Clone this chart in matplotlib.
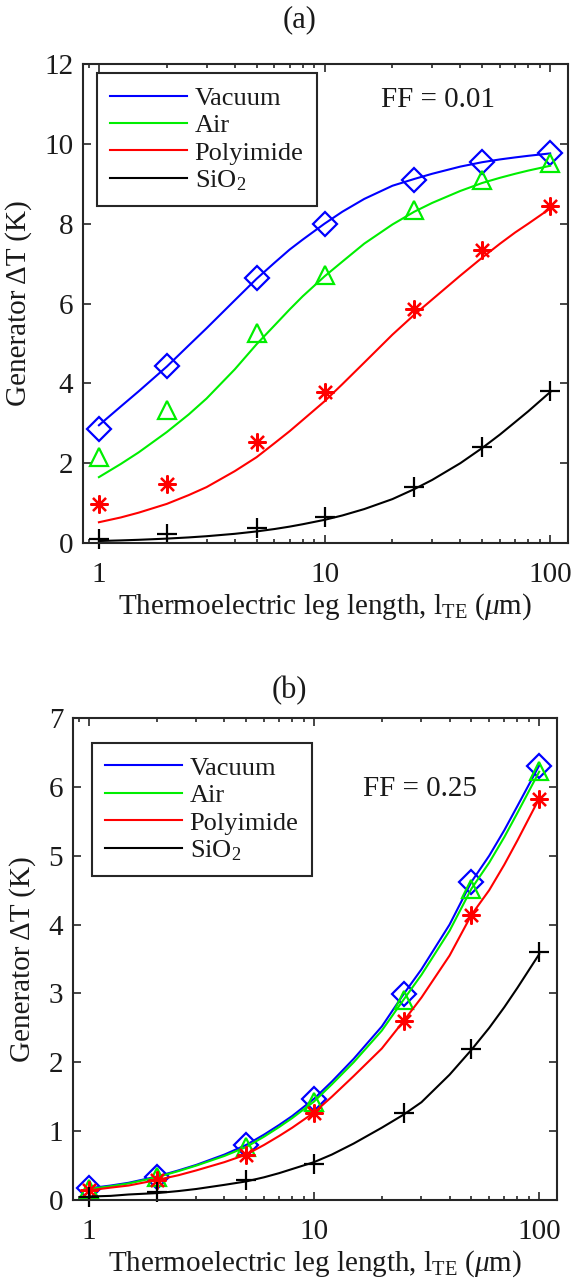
import matplotlib
matplotlib.use("Agg")
import matplotlib.pyplot as plt
from matplotlib.ticker import LogLocator, NullFormatter, FixedLocator

plt.rcParams['font.family'] = ['Liberation Serif', 'DejaVu Serif']
plt.rcParams['mathtext.fontset'] = 'custom'
plt.rcParams['mathtext.rm'] = 'Liberation Serif'
plt.rcParams['mathtext.it'] = 'Liberation Serif:italic'

# leg lengths of the simulated points (um)
leg_len = [1, 2, 5, 10, 25, 50, 100]
# leg lengths where the model curves are sampled (um)
curve_len = [1, 1.25, 1.5, 2, 2.5, 3, 4, 5, 6, 7, 8, 10, 12, 15, 20, 25, 30, 40,
             50, 60, 70, 80, 100]

materials = ['Vacuum', 'Air', 'Polyimide', 'SiO$\\mathregular{_2}$']

# FF = 0.01 : simulated points
a_vacuum = [2.86, 4.43, 6.64, 7.98, 9.10, 9.54, 9.76]
a_air = [2.16, 3.32, 5.25, 6.72, 8.33, 9.10, 9.52]
a_poly = [0.98, 1.49, 2.54, 3.78, 5.85, 7.35, 8.44]
a_sio2 = [0.10, 0.23, 0.38, 0.66, 1.40, 2.40, 3.82]
# FF = 0.01 : model curves
a_vacuum_fit = [2.95, 3.42, 3.80, 4.42, 4.95, 5.38, 6.08, 6.62, 7.02, 7.35, 7.60, 8.00,
                8.30, 8.62, 8.95, 9.12, 9.25, 9.43, 9.54, 9.61, 9.66, 9.70, 9.76]
a_air_fit = [1.65, 1.98, 2.27, 2.78, 3.22, 3.62, 4.35, 4.98, 5.45, 5.85, 6.18, 6.68,
             7.05, 7.50, 7.98, 8.30, 8.52, 8.82, 9.02, 9.15, 9.25, 9.33, 9.45]
a_poly_fit = [0.52, 0.64, 0.76, 0.98, 1.20, 1.40, 1.80, 2.15, 2.50, 2.80, 3.08, 3.55,
              3.98, 4.52, 5.22, 5.72, 6.10, 6.70, 7.15, 7.50, 7.78, 8.00, 8.38]
a_sio2_fit = [0.05, 0.065, 0.08, 0.11, 0.14, 0.17, 0.23, 0.29, 0.35, 0.41, 0.47, 0.58,
              0.69, 0.85, 1.10, 1.35, 1.58, 2.00, 2.38, 2.72, 3.03, 3.30, 3.78]

# FF = 0.25 : simulated points
b_vacuum = [0.17, 0.34, 0.80, 1.47, 2.99, 4.62, 6.31]
b_air = [0.16, 0.33, 0.77, 1.42, 2.90, 4.52, 6.23]
b_poly = [0.14, 0.29, 0.65, 1.26, 2.60, 4.14, 5.83]
b_sio2 = [0.05, 0.11, 0.29, 0.53, 1.26, 2.20, 3.60]
# FF = 0.25 : model curves
b_vacuum_fit = [0.17, 0.21, 0.25, 0.34, 0.43, 0.51, 0.66, 0.80, 0.95, 1.09, 1.22, 1.47,
                1.72, 2.05, 2.52, 2.99, 3.35, 4.00, 4.62, 5.00, 5.37, 5.72, 6.31]
b_air_fit = [0.16, 0.20, 0.24, 0.33, 0.42, 0.50, 0.64, 0.77, 0.92, 1.06, 1.19, 1.43,
             1.68, 2.00, 2.46, 2.91, 3.27, 3.91, 4.52, 4.90, 5.27, 5.62, 6.22]
b_poly_fit = [0.14, 0.18, 0.21, 0.29, 0.36, 0.43, 0.55, 0.66, 0.80, 0.93, 1.05, 1.27,
              1.50, 1.80, 2.20, 2.60, 2.94, 3.55, 4.14, 4.50, 4.87, 5.22, 5.83]
b_sio2_fit = [0.05, 0.06, 0.08, 0.10, 0.13, 0.16, 0.22, 0.27, 0.33, 0.39, 0.45, 0.55,
              0.66, 0.82, 1.05, 1.24, 1.42, 1.82, 2.18, 2.50, 2.80, 3.08, 3.57]

colors = ['#0000ff', '#00ee00', '#ff0000', '#000000']
markers = ['D', '^', (8, 2, 0), '+']
msizes = [12, 13, 13, 15]
axis_color = '#262626'
text_color = '#1a1a1a'
FS = 21
LEG_FS = 19

fig = plt.figure(figsize=(5.73, 12.85), dpi=100)
W, H = 573, 1285


def add_axes(l, t, r, b):
    return fig.add_axes([l / W, 1 - b / H, (r - l) / W, (b - t) / H])


def style(ax, ymax, yticks):
    ax.set_xscale('log')
    ax.set_xlim(0.85, 120)
    ax.set_ylim(0, ymax)
    ax.set_xticks([1, 10, 100])
    ax.set_xticklabels(['1', '10', '100'])
    ax.xaxis.set_minor_locator(LogLocator(base=10, subs=range(2, 10)))
    ax.xaxis.set_minor_formatter(NullFormatter())
    ax.yaxis.set_major_locator(FixedLocator(yticks))
    ax.tick_params(which='both', direction='in', top=True, right=True,
                   colors=axis_color, labelcolor=text_color, labelsize=FS, width=1.2)
    ax.tick_params(which='major', length=6)
    ax.tick_params(which='minor', length=3)
    ax.tick_params(axis='x', which='major', pad=14)
    ax.tick_params(axis='y', which='major', pad=7)
    for sp in ax.spines.values():
        sp.set_color(axis_color)
        sp.set_linewidth(1.5)
    ax.set_ylabel('Generator ΔT (K)', fontsize=FS, color=text_color, labelpad=9)
    ax.set_xlabel('Thermoelectric leg length, $\\mathregular{l_{TE}}$ ($\\mu$m)',
                  fontsize=FS, color=text_color, labelpad=2)


def draw(ax, pts, fits):
    handles = []
    for i in range(4):
        h, = ax.plot(curve_len, fits[i], color=colors[i], lw=1.5, label=materials[i])
        handles.append(h)
        ax.plot(leg_len, pts[i], linestyle='none', marker=markers[i], ms=msizes[i],
                mfc='none', mec=colors[i], mew=1.6, clip_on=False)
    return handles


def add_legend(ax, x0, y0, handles):
    leg = ax.legend(handles=handles, loc='upper left', bbox_to_anchor=(x0, y0),
                    fontsize=LEG_FS, frameon=True, fancybox=False, edgecolor=axis_color,
                    framealpha=1, handlelength=2.9, handletextpad=0.3, labelspacing=0.15,
                    borderpad=0.5, borderaxespad=0)
    leg.get_frame().set_linewidth(1.5)
    for t in leg.get_texts():
        t.set_color(text_color)


# panel (a)
ax1 = add_axes(83, 64, 568, 543)
style(ax1, 12, [0, 2, 4, 6, 8, 10, 12])
h = draw(ax1, [a_vacuum, a_air, a_poly, a_sio2],
         [a_vacuum_fit, a_air_fit, a_poly_fit, a_sio2_fit])
add_legend(ax1, 0.029, 0.981, h)
ax1.text(0.614, 0.925, 'FF = 0.01', transform=ax1.transAxes, fontsize=FS,
         va='center', color=text_color)
fig.text(300 / W, 1 - 20 / H, '(a)', fontsize=FS + 1, ha='center', va='center',
         color=text_color)

# panel (b)
ax2 = add_axes(73, 718, 557, 1200)
style(ax2, 7, [0, 1, 2, 3, 4, 5, 6, 7])
h = draw(ax2, [b_vacuum, b_air, b_poly, b_sio2],
         [b_vacuum_fit, b_air_fit, b_poly_fit, b_sio2_fit])
add_legend(ax2, 0.039, 0.948, h)
ax2.text(0.599, 0.853, 'FF = 0.25', transform=ax2.transAxes, fontsize=FS,
         va='center', color=text_color)
fig.text(289 / W, 1 - 691 / H, '(b)', fontsize=FS + 1, ha='center', va='center',
         color=text_color)

fig.savefig('out.png', dpi=100)
